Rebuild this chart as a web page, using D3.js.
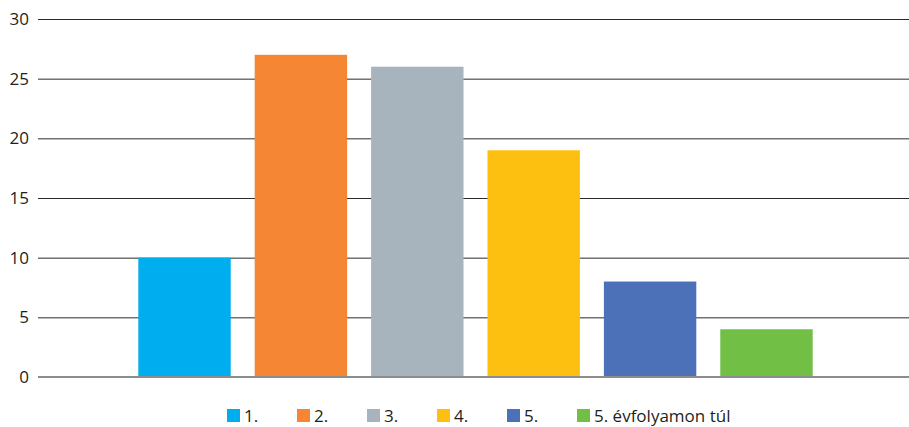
<!DOCTYPE html>
<html>
<head>
<meta charset="utf-8">
<script src="https://cdn.jsdelivr.net/npm/d3@7"></script>
<style>
  body { margin: 0; background: #fff; }
  svg { display: block; font-family: "Open Sans", sans-serif; }
</style>
</head>
<body>
<svg id="chart" width="909" height="427"></svg>
<script>
// data
const categories = ["1.", "2.", "3.", "4.", "5.", "5. évfolyamon túl"];
const values = [10, 27, 26, 19, 8, 4];
const colors = ["#00aeef", "#f58634", "#a8b4bd", "#fdc010", "#4c71b8", "#71bf45"];
const yTicks = [0, 5, 10, 15, 20, 25, 30];

const svg = d3.select("#chart");
const plotLeft = 38, plotRight = 909, plotTop = 19, plotBottom = 377;

const x = d3.scaleBand()
    .domain(categories)
    .range([41, 910])
    .paddingInner(0.206)
    .paddingOuter(0.836);
const y = d3.scaleLinear().domain([0, 30]).range([plotBottom, plotTop]);

// gridlines
svg.append("g")
  .selectAll("line")
  .data(yTicks.filter(d => d > 0))
  .join("line")
    .attr("x1", plotLeft).attr("x2", plotRight)
    .attr("y1", d => y(d) + 0.5).attr("y2", d => y(d) + 0.5)
    .attr("stroke", "#2b2b2b")
    .attr("stroke-width", 1);

// y labels
svg.append("g")
  .selectAll("text")
  .data(yTicks)
  .join("text")
    .attr("x", 29)
    .attr("y", d => y(d))
    .attr("dy", "0.36em")
    .attr("text-anchor", "end")
    .attr("font-size", 17)
    .attr("fill", "#231f20")
    .text(d => d);

// bars
svg.append("g")
  .selectAll("rect")
  .data(values)
  .join("rect")
    .attr("x", (d, i) => x(categories[i]))
    .attr("y", d => y(d))
    .attr("width", x.bandwidth())
    .attr("height", d => y(0) - y(d))
    .attr("fill", (d, i) => colors[i]);

// baseline
svg.append("line")
  .attr("x1", plotLeft).attr("x2", plotRight)
  .attr("y1", plotBottom).attr("y2", plotBottom)
  .attr("stroke", "#8c8c8c")
  .attr("stroke-width", 2);

// legend
const legend = svg.append("g")
  .selectAll("g")
  .data(categories)
  .join("g")
    .attr("transform", (d, i) => "translate(" + (227 + i * 70) + ",409)");
legend.append("rect")
  .attr("width", 13).attr("height", 13)
  .attr("fill", (d, i) => colors[i]);
legend.append("text")
  .attr("x", 17)
  .attr("y", 13)
  .attr("font-size", 17)
  .attr("fill", "#231f20")
  .text(d => d);
</script>
</body>
</html>
